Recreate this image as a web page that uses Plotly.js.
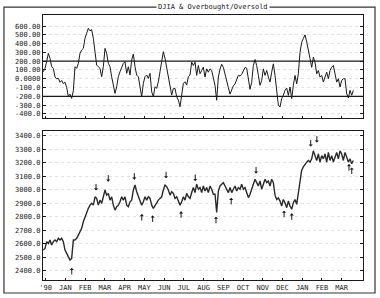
<!DOCTYPE html>
<html>
<head>
<meta charset="utf-8">
<script src="https://cdn.plot.ly/plotly-3.0.1.min.js"></script>
<style>html,body{margin:0;padding:0;background:#fff;}#chart{width:380px;height:298px;}</style>
</head>
<body>
<div id="chart"></div>
<script>
// Month tick labels (Dec 1990 .. Mar 1992)
const monthLabels = ["'90","JAN","FEB","MAR","APR","MAY","JUN","JUL","AUG","SEP","OCT","NOV","DEC","JAN","FEB","MAR"];

// Sampling of both series: first sample position (in months from Dec 1990) and step (~2.6 days)
const SAMPLE_START = -0.12;
const SAMPLE_STEP = 0.08447;

// Overbought/Oversold oscillator
const oscillator = [
  80,118,194,289,232,137,118,20,0,5,-40,-20,-55,-40,-100,-200,-175,-224,-137,137,
  118,175,289,327,346,460,517,574,545,560,460,327,156,137,118,23,137,346,289,175,
  137,23,-72,-167,-91,23,80,137,175,194,61,137,42,213,281,137,42,23,-91,-205,
  -53,23,42,4,61,-148,-205,-91,-110,-34,80,194,308,232,137,23,-53,-186,-110,-110,
  -205,-243,-319,-186,-53,-34,-72,23,42,
  189,151,189,38,151,57,94,132,19,113,75,113,94,19,-75,-245,20,110,165,130,
  40,-20,-100,-175,-120,-80,-60,0,40,30,50,90,130,120,0,-120,-40,151,219,151,
  38,-75,-19,113,38,94,19,-38,75,170,38,-132,-300,-321,-226,-189,-132,-106,-189,-94,
  -226,-75,38,-57,57,302,415,460,500,420,340,230,130,245,189,57,94,19,38,-38,
  19,75,0,94,132,151,57,-38,0,-94,-19,0,0,-170,-219,-132,-189,-132
];

// Dow Jones Industrial Average
const djia = [
  2553,2565,2615,2602,2627,2590,2615,2627,2615,2640,2627,2640,2615,2553,2528,2504,2479,2491,2627,2627,
  2640,2664,2689,2714,2763,2800,2825,2862,2886,2899,2886,2948,2936,2886,2923,2899,2948,2998,2960,2973,
  2923,2948,2886,2849,2874,2886,2911,2948,2923,2948,2886,2874,2911,2923,2998,3035,2985,2948,2923,2886,
  2911,2948,2923,2948,2936,2886,2862,2886,2899,2923,2936,2948,2998,3035,3022,2998,2960,2985,2973,2936,
  2948,2923,2886,2911,2948,2923,2973,2948,2936,
  2979,3016,2979,3041,3004,3016,2979,3028,2991,3016,2979,3028,3004,2967,2967,2831,2990,3028,3041,3053,
  3028,3004,2979,3016,2979,3004,3028,2991,3016,3004,3041,3004,3016,2979,2942,2967,3004,3053,3078,3053,
  3028,3065,3004,3041,3078,3053,3065,3028,3078,3053,2960,2928,2940,2916,2880,2928,2904,2867,2916,2880,
  2855,2904,2928,2892,2988,3060,3145,3169,3193,3205,3217,3205,3229,3289,3253,3217,3265,3205,3253,3229,
  3265,3205,3277,3217,3253,3205,3241,3277,3229,3289,3265,3217,3277,3241,3205,3229,3193,3217
];

// Signal arrows: month position and index level at the arrow tip
const sellX = [2.55,3.17,4.49,6.10,7.58,10.66,13.43,13.74];
const sellY = [2995,3060,3075,3085,3065,3120,3320,3350];
const buyX  = [1.32,4.87,5.42,6.86,8.63,9.40,12.08,12.47,15.37,15.51];
const buyY  = [2420,2820,2810,2840,2800,2940,2845,2825,3190,3165];

// Overbought / oversold reference levels
const bandLevels = [200, -200];

const oscTicks = [600,500,400,300,200,100,0,-100,-200,-300,-400];
const oscTickText = ["600.00","500.00","400.00","300.00","200.00","100.00","0.0000","-100.0","-200.0","-300.0","-400.0"];
const djiaTicks = [3400,3300,3200,3100,3000,2900,2800,2700,2600,2500,2400];
const djiaTickText = ["3400.0","3300.0","3200.0","3100.0","3000.0","2900.0","2800.0","2700.0","2600.0","2500.0","2400.0"];

const xs1 = oscillator.map((_, i) => SAMPLE_START + i * SAMPLE_STEP);
const xs2 = djia.map((_, i) => SAMPLE_START + i * SAMPLE_STEP);
const monthPos = monthLabels.map((_, i) => i);

const FONT = "DejaVu Sans Mono, monospace";
const INK = "#1a1a1a";

const traces = [
  {x: xs1, y: oscillator, xaxis: 'x', yaxis: 'y', mode: 'lines', line: {color: INK, width: 1}, hoverinfo: 'skip'},
  {x: xs2, y: djia, xaxis: 'x2', yaxis: 'y2', mode: 'lines', line: {color: '#2a2a2a', width: 1.4}, hoverinfo: 'skip'}
];

function arrowAnn(x, y, dir) {
  return {x: x, y: y, xref: 'x2', yref: 'y2', text: '', showarrow: true,
    ax: 0, ay: dir === 'down' ? -8 : 8, axref: 'pixel', ayref: 'pixel',
    arrowhead: 1, arrowsize: 0.7, arrowwidth: 1, arrowcolor: INK, standoff: 0};
}

const xCommon = {
  range: [-0.137, 16.08], tickvals: monthPos, ticktext: monthLabels,
  showgrid: false, zeroline: false, showline: true, linecolor: INK, linewidth: 1.2,
  mirror: true, ticks: 'inside', ticklen: 2, tickcolor: INK,
  tickfont: {family: FONT, size: 7, color: INK}, fixedrange: true
};

const layout = {
  width: 380, height: 298,
  margin: {l: 43, r: 17, t: 15, b: 18},
  paper_bgcolor: '#fff', plot_bgcolor: '#fff',
  showlegend: false,
  xaxis: Object.assign({}, xCommon, {anchor: 'y', showticklabels: false}),
  xaxis2: Object.assign({}, xCommon, {anchor: 'y2'}),
  yaxis: {
    domain: [0.611, 1], range: [-448, 726], tickvals: oscTicks, ticktext: oscTickText,
    showgrid: true, gridcolor: '#e2e2e2', griddash: 'dot', gridwidth: 1, zeroline: false,
    showline: true, linecolor: INK, linewidth: 1.2, mirror: 'allticks', ticks: 'inside', ticklen: 3, tickcolor: INK,
    tickfont: {family: FONT, size: 7, color: INK}, fixedrange: true
  },
  yaxis2: {
    domain: [0, 0.562], range: [2331, 3435], tickvals: djiaTicks, ticktext: djiaTickText,
    showgrid: true, gridcolor: '#e2e2e2', griddash: 'dot', gridwidth: 1, zeroline: false,
    showline: true, linecolor: INK, linewidth: 1.2, mirror: 'allticks', ticks: 'inside', ticklen: 3, tickcolor: INK,
    tickfont: {family: FONT, size: 7, color: INK}, fixedrange: true
  },
  shapes: bandLevels.map(v => ({
    type: 'line', xref: 'x domain', yref: 'y', x0: 0, x1: 1, y0: v, y1: v,
    line: {color: INK, width: 1.2}
  })).concat([
    {type: 'rect', xref: 'paper', yref: 'paper', x0: -0.122, x1: 1.0375, y0: -0.049, y1: 1.03,
     line: {color: '#333', width: 1.2}, layer: 'below'}
  ]),
  annotations: [
    {text: 'DJIA & Overbought/Oversold', xref: 'paper', yref: 'paper', x: 0.53, y: 1.03,
     xanchor: 'center', yanchor: 'middle', showarrow: false, bgcolor: '#fff', borderpad: 1,
     font: {family: FONT, size: 7, color: INK}}
  ].concat(sellX.map((x, i) => arrowAnn(x, sellY[i], 'down')))
   .concat(buyX.map((x, i) => arrowAnn(x, buyY[i], 'up')))
};

Plotly.newPlot('chart', traces, layout, {staticPlot: true, displayModeBar: false});
</script>
</body>
</html>
